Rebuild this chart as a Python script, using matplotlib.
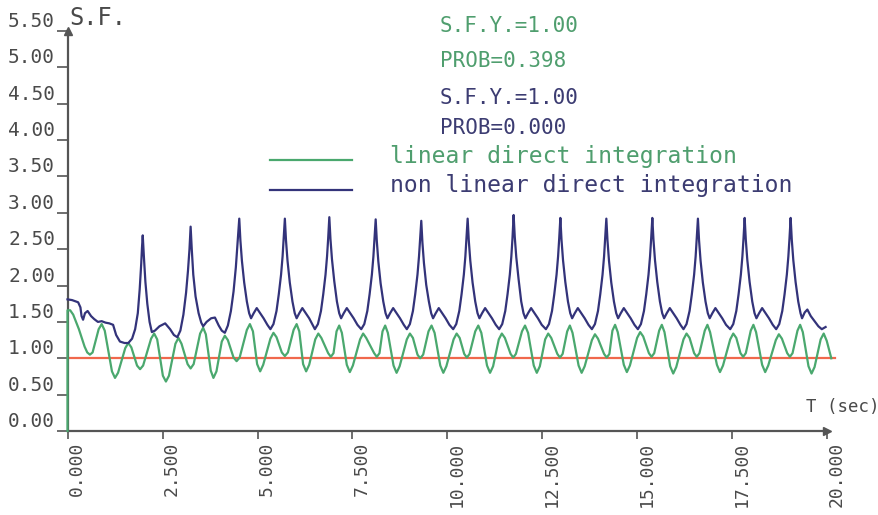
import matplotlib
matplotlib.use("Agg")
import matplotlib.pyplot as plt

# ---------------- data ----------------
# non linear direct integration (time [s], safety factor)
t_nl = [0.00, 0.12, 0.28, 0.34, 0.37, 0.41, 0.46, 0.53, 0.62, 0.70, 0.80, 0.90, 1.00, 1.10, 1.20, 1.28, 1.38, 1.50, 1.60, 1.70, 1.78, 1.85, 1.90, 1.94, 1.96,
        1.98, 2.01, 2.05, 2.10, 2.16, 2.22, 2.30, 2.42, 2.57, 2.70, 2.80, 2.89, 2.97, 3.05, 3.12, 3.17, 3.21,
        3.24, 3.27, 3.31, 3.37, 3.45, 3.52, 3.57, 3.66, 3.78, 3.88, 3.98, 4.06, 4.14, 4.22, 4.30, 4.37, 4.43, 4.47,
        4.52, 4.55, 4.59, 4.65, 4.72, 4.78, 4.83, 4.90, 4.98, 5.07, 5.16, 5.26, 5.34, 5.42, 5.50, 5.56, 5.62, 5.66, 5.69,
        5.72, 5.75, 5.79, 5.85, 5.92, 5.98, 6.03, 6.10, 6.18, 6.27, 6.36, 6.45, 6.51, 6.59, 6.67, 6.73, 6.79, 6.83, 6.86,
        6.89, 6.92, 6.96, 7.02, 7.09, 7.15, 7.20, 7.27, 7.35, 7.44, 7.53, 7.63, 7.73, 7.81, 7.89, 7.95, 8.01, 8.05, 8.08,
        8.11, 8.14, 8.18, 8.24, 8.31, 8.37, 8.42, 8.49, 8.57, 8.66, 8.75, 8.85, 8.93, 9.01, 9.09, 9.15, 9.21, 9.25, 9.28,
        9.31, 9.34, 9.38, 9.44, 9.51, 9.57, 9.62, 9.69, 9.77, 9.86, 9.95, 10.05, 10.15, 10.23, 10.31, 10.37, 10.43, 10.47, 10.50,
        10.53, 10.56, 10.60, 10.66, 10.73, 10.79, 10.84, 10.91, 10.99, 11.08, 11.17, 11.27, 11.36, 11.44, 11.52, 11.58, 11.64, 11.68, 11.71,
        11.74, 11.77, 11.81, 11.87, 11.94, 12.00, 12.05, 12.12, 12.20, 12.29, 12.38, 12.48, 12.59, 12.67, 12.75, 12.81, 12.87, 12.91, 12.94,
        12.97, 13.00, 13.04, 13.10, 13.17, 13.23, 13.28, 13.35, 13.43, 13.52, 13.61, 13.71, 13.80, 13.88, 13.96, 14.02, 14.08, 14.12, 14.15,
        14.18, 14.21, 14.25, 14.31, 14.38, 14.44, 14.49, 14.56, 14.64, 14.73, 14.82, 14.92, 15.01, 15.09, 15.17, 15.23, 15.29, 15.33, 15.36,
        15.39, 15.42, 15.46, 15.52, 15.59, 15.65, 15.70, 15.77, 15.85, 15.94, 16.03, 16.13, 16.21, 16.29, 16.37, 16.43, 16.49, 16.53, 16.56,
        16.59, 16.62, 16.66, 16.72, 16.79, 16.85, 16.90, 16.97, 17.05, 17.14, 17.23, 17.33, 17.44, 17.52, 17.60, 17.66, 17.72, 17.76, 17.79,
        17.82, 17.85, 17.89, 17.95, 18.02, 18.08, 18.13, 18.20, 18.28, 18.37, 18.46, 18.56, 18.65, 18.73, 18.81, 18.87, 18.93, 18.97, 19.00,
        19.03, 19.06, 19.10, 19.16, 19.23, 19.29, 19.33, 19.40, 19.47, 19.56, 19.66, 19.76, 19.85, 19.95]
sf_nl = [1.81, 1.80, 1.77, 1.70, 1.58, 1.53, 1.62, 1.65, 1.58, 1.54, 1.50, 1.51, 1.49, 1.48, 1.46, 1.32, 1.23, 1.21, 1.21, 1.27, 1.40, 1.62, 1.95, 2.30, 2.52,
         2.69, 2.40, 2.05, 1.75, 1.50, 1.36, 1.38, 1.44, 1.48, 1.40, 1.32, 1.29, 1.38, 1.60, 1.90, 2.20, 2.50,
         2.81, 2.50, 2.15, 1.85, 1.62, 1.49, 1.44, 1.50, 1.55, 1.56, 1.45, 1.38, 1.35, 1.45, 1.65, 1.92, 2.25, 2.55,
         2.92, 2.62, 2.34, 2.04, 1.78, 1.62, 1.55, 1.62, 1.69, 1.62, 1.55, 1.46, 1.40, 1.47, 1.65, 1.88, 2.15, 2.40, 2.65,
         2.92, 2.62, 2.34, 2.04, 1.78, 1.62, 1.55, 1.62, 1.69, 1.62, 1.55, 1.46, 1.40, 1.47, 1.65, 1.88, 2.15, 2.40, 2.65,
         2.94, 2.64, 2.36, 2.06, 1.78, 1.62, 1.55, 1.62, 1.69, 1.62, 1.55, 1.46, 1.40, 1.47, 1.65, 1.88, 2.15, 2.40, 2.65,
         2.91, 2.61, 2.33, 2.03, 1.78, 1.62, 1.55, 1.62, 1.69, 1.62, 1.55, 1.46, 1.40, 1.47, 1.65, 1.88, 2.15, 2.40, 2.65,
         2.89, 2.59, 2.31, 2.01, 1.78, 1.62, 1.55, 1.62, 1.69, 1.62, 1.55, 1.46, 1.40, 1.47, 1.65, 1.88, 2.15, 2.40, 2.65,
         2.92, 2.62, 2.34, 2.04, 1.78, 1.62, 1.55, 1.62, 1.69, 1.62, 1.55, 1.46, 1.40, 1.47, 1.65, 1.88, 2.15, 2.40, 2.65,
         2.97, 2.67, 2.39, 2.09, 1.78, 1.62, 1.55, 1.62, 1.69, 1.62, 1.55, 1.46, 1.40, 1.47, 1.65, 1.88, 2.15, 2.40, 2.65,
         2.93, 2.63, 2.35, 2.05, 1.78, 1.62, 1.55, 1.62, 1.69, 1.62, 1.55, 1.46, 1.40, 1.47, 1.65, 1.88, 2.15, 2.40, 2.65,
         2.92, 2.62, 2.34, 2.04, 1.78, 1.62, 1.55, 1.62, 1.69, 1.62, 1.55, 1.46, 1.40, 1.47, 1.65, 1.88, 2.15, 2.40, 2.65,
         2.93, 2.63, 2.35, 2.05, 1.78, 1.62, 1.55, 1.62, 1.69, 1.62, 1.55, 1.46, 1.40, 1.47, 1.65, 1.88, 2.15, 2.40, 2.65,
         2.92, 2.62, 2.34, 2.04, 1.78, 1.62, 1.55, 1.62, 1.69, 1.62, 1.55, 1.46, 1.40, 1.47, 1.65, 1.88, 2.15, 2.40, 2.65,
         2.93, 2.63, 2.35, 2.05, 1.78, 1.62, 1.55, 1.62, 1.69, 1.62, 1.55, 1.46, 1.40, 1.47, 1.65, 1.88, 2.15, 2.40, 2.65,
         2.93, 2.63, 2.35, 2.05, 1.78, 1.62, 1.55, 1.63, 1.67, 1.58, 1.51, 1.44, 1.40, 1.43]

# linear direct integration (time [s], safety factor)
t_lin = [0.00, 0.00, 0.07, 0.15, 0.30, 0.45, 0.52, 0.59, 0.66,
         0.82, 0.90, 0.98, 1.17, 1.25, 1.33, 1.52, 1.60, 1.68, 1.83, 1.91, 1.99,
         2.20, 2.28, 2.36, 2.51, 2.59, 2.67, 2.84, 2.92, 3.00, 3.16, 3.24, 3.32,
         3.49, 3.57, 3.64, 3.77, 3.84, 3.92, 4.06, 4.14, 4.22, 4.37, 4.45, 4.53,
         4.72, 4.80, 4.88, 4.99, 5.07, 5.15, 5.34, 5.42, 5.50, 5.64, 5.72, 5.80,
         5.95, 6.03, 6.10, 6.20, 6.28, 6.36, 6.52, 6.60, 6.68, 6.86, 6.93, 7.00,
         7.08, 7.15, 7.22, 7.35, 7.43, 7.51, 7.70, 7.78, 7.86, 8.07, 8.14, 8.21,
         8.29, 8.36, 8.43, 8.58, 8.66, 8.74, 8.93, 9.01, 9.09, 9.21, 9.28, 9.36,
         9.50, 9.58, 9.66, 9.81, 9.89, 9.97, 10.16, 10.24, 10.32, 10.44, 10.51, 10.58,
         10.73, 10.81, 10.89, 11.04, 11.12, 11.20, 11.35, 11.43, 11.51, 11.66, 11.73, 11.80,
         11.96, 12.04, 12.12, 12.27, 12.35, 12.43, 12.57, 12.65, 12.73, 12.89, 12.96, 13.03,
         13.15, 13.22, 13.29, 13.45, 13.53, 13.61, 13.80, 13.88, 13.96, 14.12, 14.19, 14.26,
         14.34, 14.41, 14.48, 14.64, 14.72, 14.80, 14.99, 15.07, 15.15, 15.30, 15.37, 15.44,
         15.57, 15.64, 15.71, 15.86, 15.94, 16.02, 16.21, 16.29, 16.37, 16.49, 16.56, 16.63,
         16.77, 16.84, 16.91, 17.09, 17.17, 17.25, 17.44, 17.52, 17.60, 17.71, 17.78, 17.85,
         17.98, 18.05, 18.12, 18.28, 18.36, 18.44, 18.64, 18.72, 18.80, 18.94, 19.01, 19.08,
         19.21, 19.28, 19.35, 19.50, 19.58, 19.66, 19.82, 19.90, 19.98, 20.10]
sf_lin = [0.00, 1.66, 1.66, 1.60, 1.40, 1.16, 1.08, 1.05, 1.08,
          1.40, 1.47, 1.38, 0.82, 0.73, 0.80, 1.14, 1.21, 1.15, 0.90, 0.85, 0.90,
          1.27, 1.34, 1.26, 0.76, 0.68, 0.76, 1.20, 1.28, 1.20, 0.92, 0.86, 0.92,
          1.34, 1.42, 1.33, 0.83, 0.73, 0.82, 1.23, 1.31, 1.25, 1.01, 0.96, 1.01,
          1.39, 1.47, 1.37, 0.92, 0.82, 0.91, 1.27, 1.35, 1.29, 1.08, 1.03, 1.08,
          1.39, 1.47, 1.37, 0.92, 0.82, 0.91, 1.26, 1.34, 1.28, 1.07, 1.02, 1.07,
          1.37, 1.45, 1.35, 0.91, 0.81, 0.90, 1.26, 1.34, 1.28, 1.07, 1.02, 1.07,
          1.37, 1.45, 1.35, 0.90, 0.80, 0.89, 1.26, 1.34, 1.28, 1.05, 1.00, 1.05,
          1.37, 1.45, 1.35, 0.90, 0.80, 0.89, 1.26, 1.34, 1.28, 1.06, 1.01, 1.06,
          1.37, 1.45, 1.35, 0.90, 0.80, 0.89, 1.26, 1.34, 1.28, 1.06, 1.01, 1.06,
          1.37, 1.45, 1.35, 0.90, 0.80, 0.89, 1.26, 1.34, 1.28, 1.06, 1.01, 1.06,
          1.37, 1.45, 1.35, 0.90, 0.80, 0.89, 1.25, 1.33, 1.27, 1.06, 1.01, 1.06,
          1.38, 1.46, 1.36, 0.91, 0.81, 0.90, 1.28, 1.36, 1.30, 1.07, 1.02, 1.07,
          1.38, 1.46, 1.36, 0.89, 0.79, 0.88, 1.26, 1.34, 1.28, 1.07, 1.02, 1.07,
          1.38, 1.46, 1.36, 0.91, 0.81, 0.90, 1.26, 1.34, 1.28, 1.07, 1.02, 1.07,
          1.38, 1.46, 1.36, 0.91, 0.81, 0.90, 1.25, 1.33, 1.27, 1.07, 1.02, 1.07,
          1.38, 1.46, 1.36, 0.89, 0.79, 0.88, 1.26, 1.34, 1.24, 1.00]

# reference level S.F.Y. = 1.00
ref_t = [0.0, 20.2]
ref_sf = [1.0, 1.0]

y_ticks = [0.0, 0.5, 1.0, 1.5, 2.0, 2.5, 3.0, 3.5, 4.0, 4.5, 5.0, 5.5]
x_ticks = [0.0, 2.5, 5.0, 7.5, 10.0, 12.5, 15.0, 17.5, 20.0]

info_lin = ["S.F.Y.=1.00", "PROB=0.398"]
info_nl = ["S.F.Y.=1.00", "PROB=0.000"]
legend_labels = ["linear direct integration", "non linear direct integration"]

# ---------------- styling ----------------
GREEN = "#4aa86e"
GREEN_TXT = "#4f9e6e"
BLUE = "#33337a"
BLUE_TXT = "#3c3c72"
RED = "#f0684c"
AXIS = "#555555"
TXT = "#4a4a4a"
FONT = "DejaVu Sans Mono"

W, H = 879, 515
fig = plt.figure(figsize=(W / 100, H / 100), dpi=100)
x0, x1 = 67.5, 827.5
y0, y1 = 431.0, 31.0
ax = fig.add_axes([x0 / W, 1 - y0 / H, (x1 - x0) / W, (y0 - y1) / H])
ax.set_xlim(0, 20)
ax.set_ylim(0, 5.5)

for s in ("top", "right"):
    ax.spines[s].set_visible(False)
for s in ("left", "bottom"):
    ax.spines[s].set_color(AXIS)
    ax.spines[s].set_linewidth(1.6)

ax.plot(ref_t, ref_sf, color=RED, lw=1.6, clip_on=False, zorder=2)
ax.plot(t_lin, sf_lin, color=GREEN, lw=1.6, clip_on=False, zorder=3)
ax.plot(t_nl, sf_nl, color=BLUE, lw=1.6, clip_on=False, zorder=4)

# axis arrows
ax.plot([0], [5.5], marker="^", color=AXIS, markersize=6, clip_on=False, zorder=5)
ax.plot([20], [0], marker=">", color=AXIS, markersize=6, clip_on=False, zorder=5)

ax.set_yticks(y_ticks)
ax.set_yticklabels(["%.2f" % v for v in y_ticks])
ax.set_xticks(x_ticks)
ax.set_xticklabels(["%.3f" % v for v in x_ticks])
ax.tick_params(axis="y", direction="out", length=8, width=1.2, color=AXIS,
               labelsize=14, labelcolor=TXT, pad=1)
ax.tick_params(axis="x", direction="out", length=6, width=1.2, color=AXIS,
               labelsize=13, labelcolor=TXT, pad=2)
for lab in ax.get_yticklabels():
    lab.set_fontfamily(FONT)
    lab.set_va("bottom")
for lab in ax.get_xticklabels():
    lab.set_fontfamily(FONT)
    lab.set_rotation(90)
    lab.set_ha("left")
    lab.set_va("top")

# axis titles
fig.text(69 / W, 1 - 18 / H, "S.F.", fontsize=17, family=FONT, color=TXT,
         ha="left", va="center")
fig.text(806 / W, 1 - 407 / H, "T (sec)", fontsize=12.5, family=FONT, color=TXT,
         ha="left", va="center")

# info text
fs_info = 15
fig.text(440 / W, 1 - 26 / H, info_lin[0], fontsize=fs_info, family=FONT, color=GREEN_TXT, va="center")
fig.text(440 / W, 1 - 61 / H, info_lin[1], fontsize=fs_info, family=FONT, color=GREEN_TXT, va="center")
fig.text(440 / W, 1 - 98 / H, info_nl[0], fontsize=fs_info, family=FONT, color=BLUE_TXT, va="center")
fig.text(440 / W, 1 - 128 / H, info_nl[1], fontsize=fs_info, family=FONT, color=BLUE_TXT, va="center")

# legend
fig.add_artist(plt.Line2D([270 / W, 352 / W], [1 - 160 / H, 1 - 160 / H], color=GREEN, lw=1.6))
fig.add_artist(plt.Line2D([270 / W, 352 / W], [1 - 190 / H, 1 - 190 / H], color=BLUE, lw=1.6))
fig.text(390 / W, 1 - 156 / H, legend_labels[0], fontsize=16.6, family=FONT, color=GREEN_TXT, va="center")
fig.text(390 / W, 1 - 185 / H, legend_labels[1], fontsize=16.6, family=FONT, color=BLUE_TXT, va="center")

fig.savefig("out.png", dpi=100, facecolor="white")
